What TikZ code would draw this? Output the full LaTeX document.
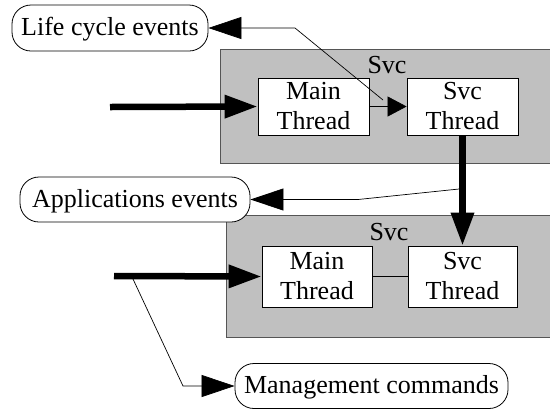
\documentclass[tikz,border=0pt]{standalone}
\usepackage{fontspec}
\setmainfont{Liberation Serif}
\usetikzlibrary{arrows.meta}
\definecolor{svcfill}{HTML}{C0C0C0}
\definecolor{svcline}{HTML}{555555}
\begin{document}
\begin{tikzpicture}[x=1bp,y=-1bp,
  every node/.style={font=\fontsize{26bp}{30bp}\selectfont, inner sep=0pt},
  svcbox/.style={draw=svcline, line width=1bp, fill=svcfill, anchor=north west},
  thread/.style={draw, line width=0.8bp, fill=white, align=center},
  event/.style={draw, line width=0.8bp, fill=white, rounded corners=19bp,
                text height=17bp, text depth=2bp},
  thin/.style={line width=0.7bp},
  thick/.style={line width=6.5bp},
  bigtip/.style={-{Triangle[length=33bp,width=22bp]}},
  smalltip/.style={-{Triangle[length=19bp,width=20bp]}}
]
\useasboundingbox (0,0) rectangle (550,410);

% service containers
\node[svcbox, minimum width=340bp, minimum height=114bp] (svcA) at (220,49) {};
\node[anchor=base] (svcAlbl) at (387,73) {Svc};
\node[svcbox, minimum width=334bp, minimum height=122bp] (svcB) at (226,215) {};
\node[anchor=base] (svcBlbl) at (389,240) {Svc};

% threads
\node[thread, minimum width=111bp, minimum height=57bp] (mainA) at (313.5,106.5) {Main\\Thread};
\node[thread, minimum width=111bp, minimum height=57bp] (thrA) at (462.5,106.5) {Svc\\Thread};
\node[thread, minimum width=110bp, minimum height=61bp] (mainB) at (317,276.5) {Main\\Thread};
\node[thread, minimum width=109bp, minimum height=61bp] (thrB) at (462.5,276.5) {Svc\\Thread};

% event boxes
\node[event, minimum width=196bp, minimum height=46bp] (life) at (110,28) {Life cycle events};
\node[event, minimum width=230bp, minimum height=45bp] (apps) at (135,199.5) {Applications events};
\node[event, minimum width=273bp, minimum height=45bp] (mgmt) at (371.5,386) {Management commands};

% free ends and bends
\coordinate (inA) at (110,107);
\coordinate (inB) at (114,276);
\coordinate (lifeSrc) at (383,100);
\coordinate (lifeBend) at (295,28);
\coordinate (appsSrc) at (459,189);
\coordinate (appsBend) at (358,199.5);
\coordinate (mgmtSrc) at (133,279);
\coordinate (mgmtBend) at (183,386);

% connectors
\draw[thick, bigtip] (inA) -- (mainA.west);
\draw[thick, bigtip] (inB) -- (mainB.west);
\draw[thin, smalltip] (mainA.east) -- (thrA.west);
\draw[thin] (mainB.east) -- (thrB.west);
\draw[thick, bigtip] (thrA.south) -- (thrB.north);
\draw[thin, bigtip] (lifeSrc) -- (lifeBend) -- (life.east);
\draw[thin, bigtip] (appsSrc) -- (appsBend) -- (apps.east);
\draw[thin, bigtip] (mgmtSrc) -- (mgmtBend) -- (mgmt.west);
\end{tikzpicture}
\end{document}
